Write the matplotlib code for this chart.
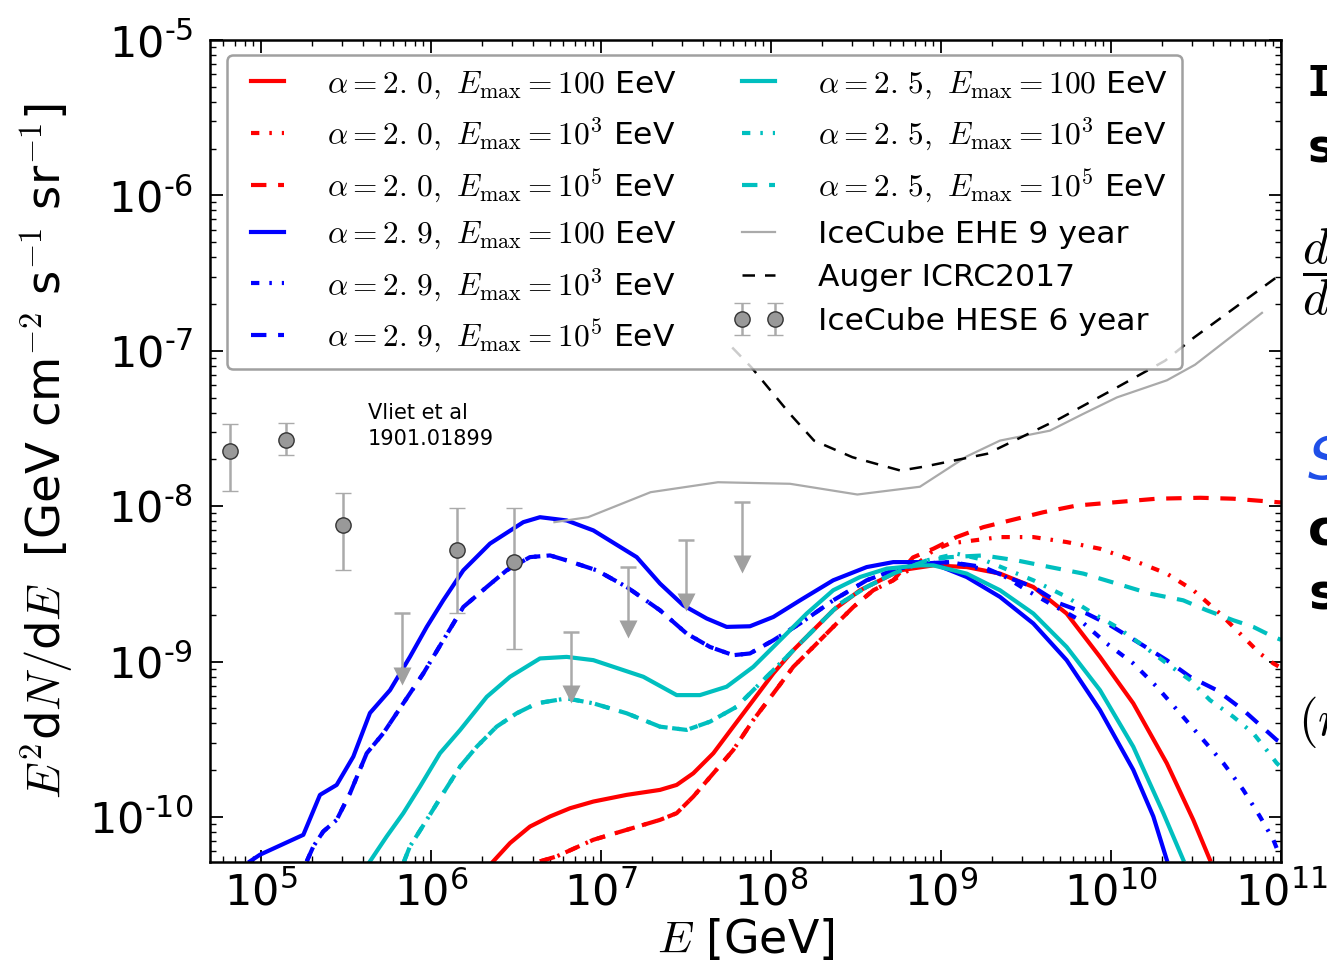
import numpy as np
import matplotlib
matplotlib.use("Agg")
import matplotlib.pyplot as plt
from matplotlib.ticker import LogLocator, FuncFormatter, NullFormatter
from matplotlib.font_manager import FontProperties

# ---------------------------------------------------------------------------
# Model fluxes: log10(E / GeV) and log10(E^2 dN/dE / GeV cm^-2 s^-1 sr^-1)
# ---------------------------------------------------------------------------
a20_100_lgE = [6.366, 6.465, 6.582, 6.700, 6.818, 6.955, 7.151, 7.347, 7.445, 7.543,
               7.661, 7.778, 7.896, 8.014, 8.131, 8.249, 8.366, 8.524, 8.681, 8.759,
               8.955, 9.151, 9.347, 9.543, 9.739, 9.935, 10.131, 10.328, 10.484, 10.582]
a20_100_lgF = [-10.286, -10.168, -10.062, -9.997, -9.944, -9.901, -9.858, -9.826, -9.794, -9.719,
               -9.590, -9.419, -9.248, -9.076, -8.927, -8.798, -8.670, -8.541, -8.456, -8.413,
               -8.381, -8.392, -8.434, -8.520, -8.691, -8.970, -9.269, -9.654, -10.019, -10.276]

a20_1e3_lgE = [6.641, 6.739, 6.955, 7.151, 7.347, 7.445, 7.543, 7.661, 7.778, 7.896,
               8.014, 8.131, 8.249, 8.366, 8.484, 8.602, 8.719, 8.837, 8.955, 9.053,
               9.347, 9.543, 9.739, 9.935, 10.131, 10.328, 10.484, 10.641, 10.778, 10.876,
               10.955, 11.0]
a20_1e3_lgF = [-10.286, -10.254, -10.147, -10.083, -10.019, -9.976, -9.869, -9.719, -9.569, -9.376,
               -9.205, -9.034, -8.906, -8.777, -8.649, -8.541, -8.477, -8.392, -8.285, -8.240,
               -8.199, -8.199, -8.231, -8.274, -8.349, -8.434, -8.541, -8.691, -8.841, -8.948,
               -9.012, -9.040]

a20_1e5_lgE = [6.641, 6.739, 6.955, 7.151, 7.347, 7.445, 7.543, 7.661, 7.778, 7.896,
               8.014, 8.131, 8.249, 8.366, 8.484, 8.602, 8.719, 8.835, 8.955, 9.092,
               9.249, 9.406, 9.602, 9.798, 10.033, 10.269, 10.524, 10.719, 10.975, 11.0]
a20_1e5_lgF = [-10.286, -10.254, -10.147, -10.083, -10.019, -9.976, -9.869, -9.719, -9.569, -9.376,
               -9.205, -9.034, -8.906, -8.777, -8.649, -8.541, -8.477, -8.330, -8.274, -8.199,
               -8.135, -8.092, -8.039, -7.996, -7.974, -7.952, -7.946, -7.952, -7.974, -7.976]

a29_100_lgE = [4.935, 4.994, 5.249, 5.347, 5.445, 5.543, 5.641, 5.759, 5.876, 5.975,
               6.072, 6.190, 6.347, 6.543, 6.641, 6.798, 6.955, 7.210, 7.347, 7.484,
               7.622, 7.739, 7.876, 8.014, 8.171, 8.366, 8.563, 8.719, 8.876, 8.955,
               9.151, 9.347, 9.543, 9.739, 9.935, 10.131, 10.249, 10.328]
a29_100_lgF = [-10.286, -10.243, -10.115, -9.858, -9.794, -9.612, -9.331, -9.184, -8.970, -8.777,
               -8.606, -8.413, -8.241, -8.103, -8.071, -8.092, -8.156, -8.328, -8.498, -8.638,
               -8.723, -8.777, -8.773, -8.713, -8.606, -8.477, -8.392, -8.360, -8.360, -8.370,
               -8.456, -8.584, -8.755, -8.991, -9.312, -9.697, -9.997, -10.276]

a29_1e3_lgE = [5.269, 5.308, 5.366, 5.445, 5.524, 5.622, 5.719, 5.837, 5.955, 6.072,
               6.190, 6.328, 6.445, 6.582, 6.700, 6.798, 6.975, 7.151, 7.347, 7.504,
               7.641, 7.778, 7.876, 8.014, 8.171, 8.366, 8.563, 8.719, 8.876, 9.053,
               9.151, 9.347, 9.504, 9.641, 9.818, 9.975, 10.131, 10.269, 10.406, 10.543,
               10.661, 10.778, 10.876, 10.955, 10.994]
a29_1e3_lgF = [-10.286, -10.190, -10.094, -10.019, -9.847, -9.590, -9.462, -9.269, -9.076, -8.863,
               -8.649, -8.520, -8.413, -8.328, -8.317, -8.349, -8.413, -8.520, -8.670, -8.820,
               -8.906, -8.959, -8.948, -8.863, -8.755, -8.606, -8.477, -8.413, -8.370, -8.360,
               -8.380, -8.434, -8.541, -8.627, -8.734, -8.884, -9.012, -9.162, -9.333, -9.505,
               -9.654, -9.826, -9.997, -10.147, -10.254]

a29_1e5_lgE = [5.269, 5.308, 5.366, 5.445, 5.524, 5.622, 5.719, 5.837, 5.955, 6.072,
               6.190, 6.328, 6.445, 6.582, 6.700, 6.798, 6.975, 7.151, 7.347, 7.504,
               7.641, 7.778, 7.876, 8.014, 8.171, 8.366, 8.563, 8.719, 8.876, 9.053,
               9.249, 9.386, 9.543, 9.700, 9.857, 9.994, 10.171, 10.328, 10.465, 10.622,
               10.778, 10.975, 11.0]
a29_1e5_lgF = [-10.286, -10.190, -10.094, -10.019, -9.847, -9.590, -9.462, -9.269, -9.076, -8.863,
               -8.649, -8.520, -8.413, -8.328, -8.317, -8.349, -8.413, -8.520, -8.670, -8.820,
               -8.906, -8.959, -8.948, -8.863, -8.755, -8.606, -8.477, -8.413, -8.370, -8.360,
               -8.392, -8.456, -8.520, -8.627, -8.691, -8.766, -8.884, -8.991, -9.098, -9.184,
               -9.312, -9.505, -9.520]

a25_100_lgE = [5.641, 5.739, 5.837, 5.935, 6.053, 6.171, 6.328, 6.465, 6.641, 6.798,
               6.955, 7.249, 7.445, 7.582, 7.739, 7.896, 8.053, 8.210, 8.366, 8.524,
               8.681, 8.876, 8.955, 9.151, 9.347, 9.543, 9.739, 9.935, 10.131, 10.308,
               10.425]
a25_100_lgF = [-10.286, -10.126, -9.976, -9.805, -9.590, -9.441, -9.227, -9.098, -8.980, -8.970,
               -8.991, -9.098, -9.216, -9.216, -9.162, -9.034, -8.863, -8.691, -8.541, -8.456,
               -8.402, -8.381, -8.381, -8.434, -8.541, -8.691, -8.906, -9.184, -9.548, -9.976,
               -10.276]

a25_1e3_lgE = [5.840, 5.876, 5.975, 6.072, 6.171, 6.269, 6.386, 6.504, 6.622, 6.798,
               6.955, 7.151, 7.347, 7.504, 7.641, 7.798, 7.935, 8.092, 8.249, 8.406,
               8.563, 8.719, 8.916, 9.092, 9.249, 9.543, 9.739, 9.896, 10.033, 10.171,
               10.328, 10.465, 10.582, 10.719, 10.837, 10.915, 10.975, 11.0]
a25_1e3_lgF = [-10.290, -10.190, -10.019, -9.847, -9.676, -9.548, -9.419, -9.333, -9.269, -9.237,
               -9.269, -9.333, -9.419, -9.440, -9.387, -9.291, -9.141, -8.970, -8.798, -8.627,
               -8.520, -8.434, -8.349, -8.306, -8.345, -8.477, -8.584, -8.691, -8.777, -8.884,
               -9.012, -9.119, -9.248, -9.355, -9.462, -9.569, -9.654, -9.680]

a25_1e5_lgE = [5.840, 5.876, 5.975, 6.072, 6.171, 6.269, 6.386, 6.504, 6.622, 6.798,
               6.955, 7.151, 7.347, 7.504, 7.641, 7.798, 7.935, 8.092, 8.249, 8.406,
               8.563, 8.719, 8.916, 9.053, 9.249, 9.445, 9.641, 9.837, 10.033, 10.229,
               10.425, 10.563, 10.719, 10.837, 10.955, 11.0]
a25_1e5_lgF = [-10.290, -10.190, -10.019, -9.847, -9.676, -9.548, -9.419, -9.333, -9.269, -9.237,
               -9.269, -9.333, -9.419, -9.440, -9.387, -9.291, -9.141, -8.970, -8.798, -8.627,
               -8.520, -8.434, -8.349, -8.328, -8.317, -8.349, -8.392, -8.434, -8.498, -8.563,
               -8.606, -8.670, -8.734, -8.777, -8.841, -8.860]

# IceCube EHE 9 year and Auger ICRC2017 sensitivity curves
ehe_lgE = [6.726, 6.924, 7.292, 7.688, 8.112, 8.508, 8.876, 9.151, 9.347, 9.641,
           9.835, 10.035, 10.329, 10.494, 10.888]
ehe_lgF = [-8.103, -8.071, -7.910, -7.846, -7.856, -7.925, -7.875, -7.680, -7.578, -7.514,
           -7.407, -7.300, -7.190, -7.090, -6.756]

auger_lgE = [7.772, 7.885, 8.112, 8.253, 8.479, 8.762, 8.904, 9.271, 9.694, 10.035,
             10.318, 10.488, 11.0]
auger_lgF = [-6.979, -7.107, -7.407, -7.578, -7.685, -7.771, -7.745, -7.663, -7.439, -7.236,
             -7.064, -6.915, -6.506]

# IceCube HESE 6 year: measured points [GeV], flux, and 1-sigma range
hese_E = [6.58e4, 1.40e5, 3.05e5, 1.43e6, 3.09e6]
hese_F = [2.25e-8, 2.68e-8, 7.62e-9, 5.25e-9, 4.37e-9]
hese_F_lo = [1.25e-8, 2.12e-8, 3.86e-9, 2.04e-9, 1.21e-9]
hese_F_hi = [3.38e-8, 3.45e-8, 1.22e-8, 9.77e-9, 9.77e-9]
# IceCube HESE 6 year: upper limits
hese_ul_E = [6.73e5, 6.64e6, 1.45e7, 3.16e7, 6.78e7]
hese_ul_F = [2.04e-9, 1.55e-9, 4.06e-9, 6.08e-9, 1.06e-8]

# ---------------------------------------------------------------------------
W, H, DPI = 1327, 976, 100
fig = plt.figure(figsize=(W / DPI, H / DPI), dpi=DPI)
fig.patch.set_facecolor("white")
ax = fig.add_axes([210 / W, 1 - 862 / H, (1281 - 210) / W, (862 - 40) / H])

RED, BLUE, CYAN = "#ff0000", "#0000ff", "#00bfbf"
LW = 3.0
SOLID = "-"
DASHDOT = (0, (2.0, 2.4, 0.6, 2.4))
DASHED = (0, (3.7, 2.8))


def curve(lgE, lgF, color, ls, label):
    ax.plot(10.0 ** np.asarray(lgE), 10.0 ** np.asarray(lgF), color=color, ls=ls,
            lw=LW, label=label)


lab = r"$\alpha = {a},\ E_{{\rm max}} = {m}$ EeV"
curve(a20_100_lgE, a20_100_lgF, RED, SOLID, lab.format(a="2.\\,0", m="100"))
curve(a20_1e3_lgE, a20_1e3_lgF, RED, DASHDOT, lab.format(a="2.\\,0", m="10^3"))
curve(a20_1e5_lgE, a20_1e5_lgF, RED, DASHED, lab.format(a="2.\\,0", m="10^5"))
curve(a29_100_lgE, a29_100_lgF, BLUE, SOLID, lab.format(a="2.\\,9", m="100"))
curve(a29_1e3_lgE, a29_1e3_lgF, BLUE, DASHDOT, lab.format(a="2.\\,9", m="10^3"))
curve(a29_1e5_lgE, a29_1e5_lgF, BLUE, DASHED, lab.format(a="2.\\,9", m="10^5"))
curve(a25_100_lgE, a25_100_lgF, CYAN, SOLID, lab.format(a="2.\\,5", m="100"))
curve(a25_1e3_lgE, a25_1e3_lgF, CYAN, DASHDOT, lab.format(a="2.\\,5", m="10^3"))
curve(a25_1e5_lgE, a25_1e5_lgF, CYAN, DASHED, lab.format(a="2.\\,5", m="10^5"))

ax.plot(10.0 ** np.asarray(ehe_lgE), 10.0 ** np.asarray(ehe_lgF), color="#aaaaaa",
        lw=1.6, label="IceCube EHE 9 year")
ax.plot(10.0 ** np.asarray(auger_lgE), 10.0 ** np.asarray(auger_lgF), color="black",
        lw=1.8, ls=(0, (5, 4)), label="Auger ICRC2017")

GREY_BAR = "#aaaaaa"
hese_F_arr = np.asarray(hese_F)
yerr = [hese_F_arr - np.asarray(hese_F_lo), np.asarray(hese_F_hi) - hese_F_arr]
ax.errorbar(hese_E, hese_F, yerr=yerr, fmt="o", ms=11, mfc="#999999", mec="#333333",
            mew=1.0, ecolor=GREY_BAR, elinewidth=1.8, capsize=6, capthick=1.8,
            zorder=6, label="IceCube HESE 6 year")

# upper limits: cap at the limit, shaft and a downward arrow head
ARROW_DROP = 10 ** -0.40
ul_E = np.asarray(hese_ul_E)
ul_F = np.asarray(hese_ul_F)
ax.vlines(ul_E, ul_F * ARROW_DROP, ul_F, color=GREY_BAR, lw=1.8, zorder=6)
ax.plot(ul_E, ul_F, ls="none", marker="_", ms=12, mew=1.8, color=GREY_BAR, zorder=6)
ax.plot(ul_E, ul_F * ARROW_DROP, ls="none", marker="v", ms=13, color="#a0a0a0",
        mec="none", zorder=6)

# axes
ax.set_xscale("log")
ax.set_yscale("log")
ax.set_xlim(10 ** 4.7, 1e11)
ax.set_ylim(10 ** -10.29, 1e-5)

ax.xaxis.set_major_locator(LogLocator(base=10, numticks=20))
ax.yaxis.set_major_locator(LogLocator(base=10, numticks=20))
ax.xaxis.set_minor_locator(LogLocator(base=10, subs=np.arange(2, 10), numticks=100))
ax.yaxis.set_minor_locator(LogLocator(base=10, subs=np.arange(2, 10), numticks=100))
ax.xaxis.set_minor_formatter(NullFormatter())
ax.yaxis.set_minor_formatter(NullFormatter())
ax.xaxis.set_major_formatter(FuncFormatter(lambda v, p: r"$10^{%d}$" % round(np.log10(v))))
ax.yaxis.set_major_formatter(
    FuncFormatter(lambda v, p: r"$10^{\text{-%d}}$" % round(-np.log10(v))))

ax.tick_params(which="both", direction="in", top=True, right=True)
ax.tick_params(which="major", length=9, width=1.3, labelsize=31)
ax.tick_params(which="minor", length=4.5, width=1.0)
ax.tick_params(axis="x", which="major", pad=7)
ax.tick_params(axis="y", which="major", pad=12)
for s in ax.spines.values():
    s.set_linewidth(1.8)

ax.set_xlabel(r"$E$ [GeV]", fontsize=33, math_fontfamily="cm", labelpad=2)
ax.set_ylabel(r"$E^2$d$N/$d$E$  [GeV cm$^{-2}$ s$^{-1}$ sr$^{-1}$]", fontsize=33.5,
              math_fontfamily="cm", labelpad=10)

leg = ax.legend(ncol=2, loc="upper left", bbox_to_anchor=((227 - 210) / 1071, (862 - 55) / 822),
                borderaxespad=0, prop=FontProperties(size=22.6, math_fontfamily="cm"),
                handlelength=1.65, handletextpad=1.1, columnspacing=1.75, labelspacing=0.47,
                numpoints=2, framealpha=0.8, fancybox=True, borderpad=0.45)
leg.get_frame().set_edgecolor("#888888")
leg.get_frame().set_linewidth(1.8)

ax.text((368 - 210) / 1071, (862 - 403) / 822, "Vliet et al\n1901.01899",
        transform=ax.transAxes, fontsize=15, va="top", ha="left", linespacing=1.35)

# slide text continuing past the right edge
fig.text(1307 / W, 1 - 84 / H, "I", fontsize=30, family="DejaVu Sans Mono",
         weight="bold", va="center", ha="left")
fig.text(1308 / W, 1 - 150 / H, "s", fontsize=33, weight="bold", va="center", ha="left")
fig.text(1302 / W, 1 - 272 / H, r"$\dfrac{d}{d}$", fontsize=36, math_fontfamily="cm",
         va="center", ha="left")
fig.text(1308 / W, 1 - 462 / H, "S", fontsize=42, color="#1f4fe8", style="italic",
         va="center", ha="left")
fig.text(1308 / W, 1 - 532 / H, "c", fontsize=36, weight="bold", va="center", ha="left")
fig.text(1308 / W, 1 - 595 / H, "s", fontsize=36, weight="bold", va="center", ha="left")
fig.text(1298 / W, 1 - 722 / H, r"$(r$", fontsize=36, math_fontfamily="cm",
         va="center", ha="left")

fig.savefig("out.png", dpi=DPI)
